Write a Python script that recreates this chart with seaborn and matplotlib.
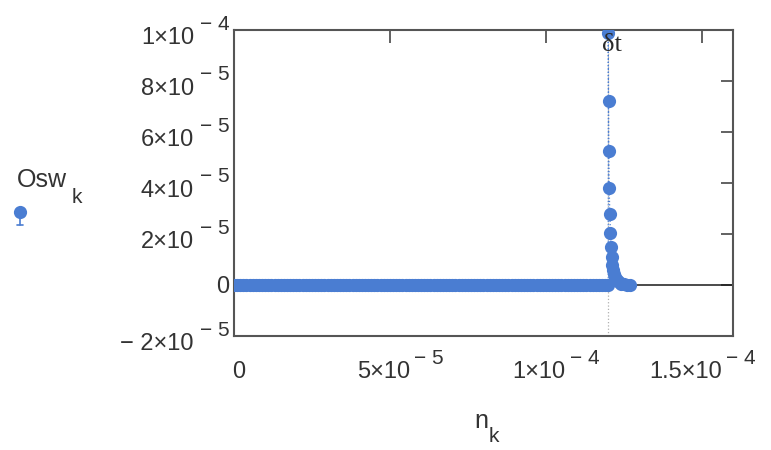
import matplotlib
matplotlib.use("Agg")
import matplotlib.pyplot as plt
from matplotlib.lines import Line2D
import seaborn as sns
import numpy as np
import pandas as pd

# data
# flat part: Osw_k sits at 0 from n = 0 up to the pulse at dt = 1.2e-4
flat_step = 1.0e-6
flat_end = 120e-6
dt = 1.2e-4
# pulse and its decay (n in s, Osw in units)
pulse_n = [120.0e-6, 120.1e-6, 120.2e-6, 120.3e-6, 120.5e-6, 120.7e-6, 120.9e-6,
           121.1e-6, 121.3e-6, 121.6e-6, 121.9e-6, 122.3e-6, 122.8e-6, 123.4e-6,
           124.2e-6, 125.0e-6, 126.0e-6, 127.0e-6]
pulse_osw = [9.9e-5, 7.2e-5, 5.25e-5, 3.8e-5, 2.8e-5, 2.05e-5, 1.5e-5, 1.1e-5,
             0.8e-5, 0.6e-5, 0.45e-5, 0.3e-5, 0.2e-5, 0.1e-5, 0.05e-5, 0.02e-5,
             0.0, 0.0]

x_ticks = [0, 5e-5, 1e-4, 1.5e-4]
x_tick_base = ["0", "5×10", "1×10", "1.5×10"]
x_tick_exp = ["", "− 5", "− 4", "− 4"]
y_ticks = [-2e-5, 0, 2e-5, 4e-5, 6e-5, 8e-5, 1e-4]
y_tick_base = ["− 2×10", "0", "2×10", "4×10", "6×10", "8×10", "1×10"]
y_tick_exp = ["− 5", "", "− 5", "− 5", "− 5", "− 5", "− 4"]

flat_n = np.arange(0, flat_end, flat_step)
df = pd.DataFrame({
    "n": np.concatenate([flat_n, pulse_n]),
    "osw": np.concatenate([np.zeros(len(flat_n)), pulse_osw]),
})

sns.set_style("white")
plt.rcParams["font.family"] = ["Liberation Sans", "DejaVu Sans"]

blue = "#4a7dd2"
txt = "#333333"
edge = "#555555"
W, H = 771, 450
PT = 0.72  # points per pixel at 100 dpi

fig = plt.figure(figsize=(W / 100, H / 100), dpi=100)
fig.patch.set_facecolor("white")
ax = fig.add_axes([234 / W, 1 - 336 / H, (733 - 234) / W, (336 - 30) / H])

ax.axhline(0, color="#1a1a1a", linewidth=1.1, zorder=1)
ax.axvline(dt, color="#b0b0b0", linewidth=0.9, linestyle=":", zorder=1)

sns.lineplot(data=df, x="n", y="osw", ax=ax, sort=False, estimator=None,
             color=blue, linewidth=0.9, linestyle=":", marker="o",
             markersize=9.5, markeredgewidth=0, zorder=3)

ax.set_xlim(0, 1.6e-4)
ax.set_ylim(-2e-5, 1e-4)
ax.set_xticks(x_ticks)
ax.set_yticks(y_ticks)
ax.tick_params(direction="in", length=9, width=1.3, color=edge,
               top=True, right=True, labelbottom=False, labelleft=False)
for s in ax.spines.values():
    s.set_color(edge)
    s.set_linewidth(1.5)
    s.set_visible(True)
ax.set_xlabel("")
ax.set_ylabel("")

# tick labels in the Mathcad style: base and raised exponent
for v, b, e in zip(y_ticks, y_tick_base, y_tick_exp):
    if e == "":
        ax.annotate(b, xy=(0, v), xycoords=("axes fraction", "data"),
                    xytext=(-5 * PT, -2 * PT), textcoords="offset points",
                    ha="right", va="center", fontsize=17, color=txt)
        continue
    ax.annotate(b, xy=(0, v), xycoords=("axes fraction", "data"),
                xytext=(-40 * PT, -8 * PT), textcoords="offset points",
                ha="right", va="center", fontsize=17, color=txt)
    ax.annotate(e, xy=(0, v), xycoords=("axes fraction", "data"),
                xytext=(-4 * PT, 6 * PT), textcoords="offset points",
                ha="right", va="center", fontsize=15, color=txt)

for v, b, e in zip(x_ticks, x_tick_base, x_tick_exp):
    if e == "":
        ax.annotate(b, xy=(v, 0), xycoords=("data", "axes fraction"),
                    xytext=(5 * PT, -36 * PT), textcoords="offset points",
                    ha="center", va="center", fontsize=17, color=txt)
        continue
    ax.annotate(b, xy=(v, 0), xycoords=("data", "axes fraction"),
                xytext=(20 * PT, -36 * PT), textcoords="offset points",
                ha="right", va="center", fontsize=17, color=txt)
    ax.annotate(e, xy=(v, 0), xycoords=("data", "axes fraction"),
                xytext=(24 * PT, -23 * PT), textcoords="offset points",
                ha="left", va="center", fontsize=15, color=txt)

# delta t marker label
ax.annotate("δt", xy=(dt, 1e-4), xycoords="data", xytext=(4 * PT, -15 * PT),
            textcoords="offset points", ha="center", va="center",
            fontsize=19, color="#2a2a2a", family=["Liberation Serif", "DejaVu Serif"])

# axis titles
fig.text(474 / W, 1 - 428 / H, "n", fontsize=18, color=txt, ha="left", va="baseline")
fig.text(489 / W, 1 - 442 / H, "k", fontsize=15, color=txt, ha="left", va="baseline")

# legend on the left
fig.text(17 / W, 1 - 187 / H, "Osw", fontsize=18, color=txt, ha="left", va="baseline")
fig.text(72 / W, 1 - 203 / H, "k", fontsize=15, color=txt, ha="left", va="baseline")
fig.add_artist(Line2D([20 / W, 20 / W], [1 - 213 / H, 1 - 225 / H],
                      transform=fig.transFigure, color=blue, linewidth=1.2))
fig.add_artist(Line2D([17 / W, 23 / W], [1 - 225 / H, 1 - 225 / H],
                      transform=fig.transFigure, color=blue, linewidth=1.2))
fig.add_artist(Line2D([20 / W], [1 - 212 / H], transform=fig.transFigure,
                      color=blue, marker="o", markersize=9.5, markeredgewidth=0,
                      linestyle="none"))

fig.savefig("out.png", dpi=100)
